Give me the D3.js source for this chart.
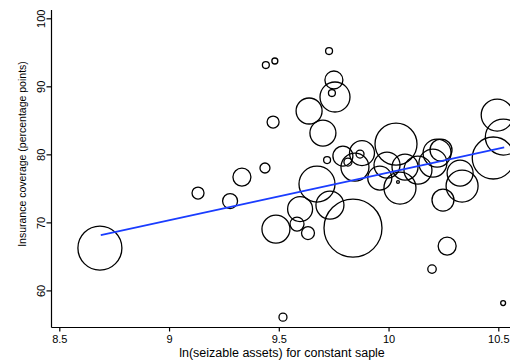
<!DOCTYPE html>
<html>
<head>
<meta charset="utf-8">
<script src="https://cdn.jsdelivr.net/npm/d3@7"></script>
<style>
  html, body { margin: 0; padding: 0; background: #fff; }
  svg { display: block; font-family: "Liberation Sans", Arial, Helvetica, sans-serif; }
</style>
</head>
<body>
<svg id="chart" width="510" height="364"></svg>
<script>
// ln(seizable assets) per group
const assets = [
  8.685, 9.132, 9.278, 9.332, 9.437, 9.441, 9.482, 9.474, 9.519, 9.487,
  9.583, 9.633, 9.597, 9.638, 9.701, 9.729, 9.751, 9.742, 9.756, 9.720,
  9.674, 9.733, 9.838, 9.792, 9.815, 9.870, 9.879, 9.847, 9.993, 10.034,
  10.052, 10.043, 10.075, 10.134, 10.202, 10.221, 10.326, 10.248, 10.335, 10.477,
  10.495, 10.523, 10.267, 10.198, 10.522, 9.960, 10.239
];
// insurance coverage, percentage points
const coverage = [
  66.22, 74.31, 73.13, 76.66, 77.99, 93.13, 93.72, 84.75, 56.07, 69.01,
  69.75, 68.43, 71.96, 86.37, 83.13, 95.19, 90.93, 89.01, 88.43, 79.16,
  75.63, 72.54, 69.16, 79.75, 78.87, 80.04, 80.19, 78.13, 78.43, 81.51,
  75.04, 75.93, 78.13, 77.69, 78.72, 80.19, 77.25, 73.28, 75.34, 79.46,
  85.78, 82.54, 66.51, 63.13, 58.13, 76.51, 80.63
];
// group weight (bubble area)
const weight = [
  484, 36, 56, 81, 25, 12, 9, 36, 16, 196,
  49, 42, 156, 169, 169, 12, 81, 12, 225, 12,
  324, 196, 841, 100, 16, 16, 156, 196, 169, 441,
  256, 2, 169, 196, 196, 196, 169, 121, 256, 441,
  256, 324, 81, 18, 6, 144, 121
];
// fitted line endpoints
const fitX = [8.689, 10.527];
const fitY = [68.13, 81.03];

const xTicks = [8.5, 9, 9.5, 10, 10.5];
const yTicks = [60, 70, 80, 90, 100];
const xTitle = "ln(seizable assets) for constant saple";
const yTitle = "Insurance coverage (percentage points)";

const svg = d3.select("#chart");

const x = d3.scaleLinear().domain([8.5, 10.5]).range([59.3, 498.3]);
const y = d3.scaleLinear().domain([60, 100]).range([290.4, 18.3]);
const r = d3.scaleSqrt().domain([0, d3.max(weight)]).range([0, Math.sqrt(d3.max(weight))]);

const axisLeftX = 51.5, axisBottomY = 327.5;

// bubbles
const pts = assets.map((a, i) => ({ a, c: coverage[i], w: weight[i] }));
svg.append("g")
  .selectAll("circle")
  .data(pts)
  .join("circle")
  .attr("cx", d => x(d.a))
  .attr("cy", d => y(d.c))
  .attr("r", d => r(d.w))
  .attr("fill", "none")
  .attr("stroke", "#000")
  .attr("stroke-width", 1.3);

// fitted line
svg.append("line")
  .attr("x1", x(fitX[0])).attr("y1", y(fitY[0]))
  .attr("x2", x(fitX[1])).attr("y2", y(fitY[1]))
  .attr("stroke", "#1a3cff")
  .attr("stroke-width", 1.6);

// x axis
const xAxis = svg.append("g")
  .attr("transform", `translate(0,${axisBottomY})`)
  .call(d3.axisBottom(x).tickValues(xTicks).tickFormat(d3.format("")).tickSize(4).tickPadding(4));
xAxis.select(".domain").remove();
xAxis.append("line").attr("x1", axisLeftX).attr("x2", 510).attr("stroke", "#000").attr("stroke-width", 1.2);
xAxis.selectAll(".tick line").attr("stroke", "#000").attr("stroke-width", 1.2);
xAxis.selectAll(".tick text")
  .attr("fill", "#000")
  .attr("font-size", 11)
  .attr("dy", null)
  .attr("y", 15);

// y axis
const yAxis = svg.append("g")
  .attr("transform", `translate(${axisLeftX},0)`)
  .call(d3.axisLeft(y).tickValues(yTicks).tickSize(5));
yAxis.select(".domain").remove();
yAxis.append("line").attr("y1", 10).attr("y2", axisBottomY).attr("stroke", "#000").attr("stroke-width", 1.2);
yAxis.selectAll(".tick line").attr("stroke", "#000").attr("stroke-width", 1.2);
yAxis.selectAll(".tick text")
  .attr("fill", "#000")
  .attr("font-size", 11)
  .attr("x", null).attr("dy", null)
  .attr("text-anchor", "middle")
  .attr("transform", "translate(-6.5,0) rotate(-90)");

svg.append("text")
  .attr("x", 282).attr("y", 357)
  .attr("text-anchor", "middle")
  .attr("font-size", 12.5)
  .text(xTitle);

svg.append("text")
  .attr("transform", "translate(26,154) rotate(-90)")
  .attr("text-anchor", "middle")
  .attr("font-size", 10.5)
  .text(yTitle);
</script>
</body>
</html>
